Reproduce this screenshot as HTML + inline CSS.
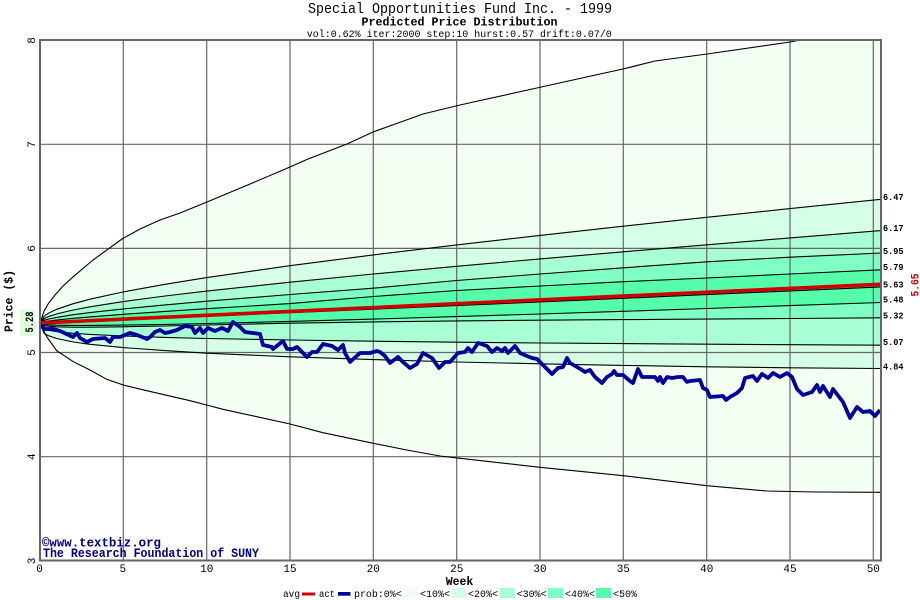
<!DOCTYPE html>
<html>
<head>
<meta charset="utf-8">
<style>
html,body{margin:0;padding:0;background:#fff;}
svg{display:block;}
text{font-family:"Liberation Mono","DejaVu Sans Mono",monospace;}
</style>
</head>
<body>
<svg width="920" height="600" viewBox="0 0 920 600" xmlns="http://www.w3.org/2000/svg">
<defs>
<clipPath id="pc"><rect x="40" y="40" width="841" height="521"/></clipPath>
</defs>
<rect x="0" y="0" width="920" height="600" fill="#fff"/>

<g clip-path="url(#pc)">
<polygon fill="#f2fff2" points="40,323.3 44.2,310.7 48.3,303.7 55,295 63,286 73.3,276.7 93,260 122,239 140,229 160,220 180,213 207,202 250,184 290,167 308,159 347,144 373,132 423,114 460,105 530,89.5 600,74 623,69 655,61 707,54 790,42 800,40 881,28 881,492.3 815,492 766.7,491 706.7,485.7 623.3,475.7 540,467.3 460,458.3 440,456 406.7,450 373.3,443.3 323,432.7 290,424 256.7,416.7 223,409.3 206.7,405 190,400.7 146.7,390.7 123.3,385 106.7,379.3 90,370 73.3,361.7 56.7,350.7 46.7,336.7"/>
<polygon fill="#d6ffe8" points="40,323.3 44.2,316.1 48.3,313.3 56.7,309.3 73.3,303.7 90,299.2 123.3,291.9 165,284.3 206.7,277.6 290,265.7 373.3,254.9 456.7,244.9 540,235.4 623.3,226.2 706.7,217.3 790,208.6 881,199.3 881,368.5 790,367.8 706.7,366.8 623.3,365.4 540,363.8 456.7,362 373.3,359.6 290,356.8 206.7,353.2 165,350.6 123.3,347.6 90,344.3 73.3,342 56.7,338.5 48.3,335.6 44.2,333.5"/>
<polygon fill="#a8ffd4" points="40,323.3 44.2,318.5 48.3,316.6 56.7,313.9 73.3,310 90,306.8 123.3,301.6 165,296 206.7,291.1 290,282.2 373.3,274 456.7,266.3 540,258.9 623.3,251.8 706.7,244.8 790,237.9 881,230.6 881,345.2 790,344.7 706.7,344.2 623.3,343.6 540,343 456.7,342.2 373.3,341.2 290,340 206.7,338.5 165,337.4 123.3,336 90,334.4 73.3,333.3 56.7,331.6 48.3,330.3 44.2,329"/>
<polygon fill="#80ffc4" points="40,323.3 44.2,320.3 48.3,319.1 56.7,317.4 73.3,314.7 90,312.6 123.3,308.9 165,304.9 206.7,301.2 290,294.5 373.3,288.2 456.7,280.5 540,274 623.3,267.8 706.7,261.8 790,257.2 881,253 881,317.8 790,318.5 706.7,319.1 623.3,319.6 540,320.2 456.7,320.9 373.3,321.9 290,323.2 206.7,325 165,326 123.3,326.8 90,327.2 73.3,327.2 56.7,326.8 48.3,326.2 44.2,325.6"/>
<polygon fill="#55ffaa" points="40,323.3 44.2,321.7 48.3,321 56.7,320 73.3,318.3 90,316.9 123.3,314.3 165,311.4 206.7,308.7 290,303.6 373.3,296.5 456.7,290.5 540,286 623.3,281.7 706.7,278 790,274 881,269.8 881,302.5 790,305.6 706.7,308.5 623.3,311.3 540,314 456.7,316.6 373.3,319.1 290,321.4 206.7,323.5 165,324.4 123.3,325.1 90,325.4 73.3,325.4 56.7,325.2 48.3,324.8 44.2,324.5"/>
</g>

<g stroke="#666" stroke-width="1.2">
<line x1="123.3" y1="40" x2="123.3" y2="561"/>
<line x1="206.7" y1="40" x2="206.7" y2="561"/>
<line x1="290" y1="40" x2="290" y2="561"/>
<line x1="373.3" y1="40" x2="373.3" y2="561"/>
<line x1="456.7" y1="40" x2="456.7" y2="561"/>
<line x1="540" y1="40" x2="540" y2="561"/>
<line x1="623.3" y1="40" x2="623.3" y2="561"/>
<line x1="706.7" y1="40" x2="706.7" y2="561"/>
<line x1="790" y1="40" x2="790" y2="561"/>
<line x1="873.3" y1="40" x2="873.3" y2="561"/>
<line x1="40" y1="144.3" x2="881" y2="144.3"/>
<line x1="40" y1="248.4" x2="881" y2="248.4"/>
<line x1="40" y1="352.5" x2="881" y2="352.5"/>
<line x1="40" y1="456.7" x2="881" y2="456.7"/>
</g>

<g clip-path="url(#pc)" fill="none" stroke="#000" stroke-width="1.1">
<polyline points="40,323.3 44.2,310.7 48.3,303.7 55,295 63,286 73.3,276.7 93,260 122,239 140,229 160,220 180,213 207,202 250,184 290,167 308,159 347,144 373,132 423,114 460,105 530,89.5 600,74 623,69 655,61 707,54 790,42 800,40 881,28"/>
<polyline points="40,323.3 44.2,316.1 48.3,313.3 56.7,309.3 73.3,303.7 90,299.2 123.3,291.9 165,284.3 206.7,277.6 290,265.7 373.3,254.9 456.7,244.9 540,235.4 623.3,226.2 706.7,217.3 790,208.6 881,199.3"/>
<polyline points="40,323.3 44.2,318.5 48.3,316.6 56.7,313.9 73.3,310 90,306.8 123.3,301.6 165,296 206.7,291.1 290,282.2 373.3,274 456.7,266.3 540,258.9 623.3,251.8 706.7,244.8 790,237.9 881,230.6"/>
<polyline points="40,323.3 44.2,320.3 48.3,319.1 56.7,317.4 73.3,314.7 90,312.6 123.3,308.9 165,304.9 206.7,301.2 290,294.5 373.3,288.2 456.7,280.5 540,274 623.3,267.8 706.7,261.8 790,257.2 881,253"/>
<polyline points="40,323.3 44.2,321.7 48.3,321 56.7,320 73.3,318.3 90,316.9 123.3,314.3 165,311.4 206.7,308.7 290,303.6 373.3,296.5 456.7,290.5 540,286 623.3,281.7 706.7,278 790,274 881,269.8"/>
<polyline points="40,323.3 44.2,323.2 48.3,323 56.7,322.6 73.3,321.9 90,321.2 123.3,319.8 165,318.1 206.7,316.3 290,312.7 373.3,309.2 456.7,305.6 540,301.9 623.3,298.3 706.7,294.6 790,290.9 881,286.9"/>
<polyline points="40,323.3 44.2,324.5 48.3,324.8 56.7,325.2 73.3,325.4 90,325.4 123.3,325.1 165,324.4 206.7,323.5 290,321.4 373.3,319.1 456.7,316.6 540,314 623.3,311.3 706.7,308.5 790,305.6 881,302.5"/>
<polyline points="40,323.3 44.2,325.6 48.3,326.2 56.7,326.8 73.3,327.2 90,327.2 123.3,326.8 165,326 206.7,325 290,323.2 373.3,321.9 456.7,320.9 540,320.2 623.3,319.6 706.7,319.1 790,318.5 881,317.8"/>
<polyline points="40,323.3 44.2,329 48.3,330.3 56.7,331.6 73.3,333.3 90,334.4 123.3,336 165,337.4 206.7,338.5 290,340 373.3,341.2 456.7,342.2 540,343 623.3,343.6 706.7,344.2 790,344.7 881,345.2"/>
<polyline points="40,323.3 44.2,333.5 48.3,335.6 56.7,338.5 73.3,342 90,344.3 123.3,347.6 165,350.6 206.7,353.2 290,356.8 373.3,359.6 456.7,362 540,363.8 623.3,365.4 706.7,366.8 790,367.8 881,368.5"/>
<polyline points="40,323.3 46.7,336.7 56.7,350.7 73.3,361.7 90,370 106.7,379.3 123.3,385 146.7,390.7 190,400.7 206.7,405 223,409.3 256.7,416.7 290,424 323,432.7 373.3,443.3 406.7,450 440,456 460,458.3 540,467.3 623.3,475.7 706.7,485.7 766.7,491 815,492 881,492.3"/>
</g>

<polyline clip-path="url(#pc)" fill="none" stroke="#d00000" stroke-width="3.6" points="40,323 460,303.5 880,284.3"/>

<polyline clip-path="url(#pc)" fill="none" stroke="#000099" stroke-width="3.8" stroke-linejoin="round" points="40,323.5 42,326.7 45,329 53,329 60,331 73,337 77,333 80,338 87,342 93,339 105,338 110,342 113,337 120,337 130,333 137,335 142,337 147,339 150,337 155,332 160,330 165,333 170,332 177,330 185,326 192,327 195,333 200,328 203,333 208,328 215,331 222,328 228,331 233,322 240,327 245,332 253,333 260,334 263,345 272,347 273,349 278,345 283,341 287,349 293,349 297,347 302,352 307,357 312,352 317,352 323,344 332,346 338,350 343,345 345,353 350,362 360,353 370,353 377,351 380,352 385,356 390,363 398,357 403,362 410,368 417,364 423,353 432,358 439,368 445,362 450,362 458,353 465,352 468,348 472,352 478,343 487,346 492,352 497,348 502,351 505,348 508,353 515,346 520,353 527,356 532,358 537,359 543,365 552,374 558,368 563,367 567,358 570,363 577,367 582,370 585,372 590,370 595,377 602,383 607,377 612,374 614,371 617,375 623,375 630,381 633,383 638,369 642,377 648,377 655,377 658,381 660,377 663,383 667,377 672,378 678,377 683,377 687,382 690,381 700,380 703,388 707,390 710,397 723,396 726,400 730,397 737,393 742,388 745,378 753,376 757,381 762,374 768,378 773,373 780,377 787,373 792,377 797,389 803,395 812,392 817,385 820,392 823,386 830,397 833,389 843,402 850,418 857,407 863,412 870,411 875,416 880,410"/>

<rect x="40" y="40" width="841" height="520.5" fill="none" stroke="#666" stroke-width="2"/>

<text x="460" y="13" text-anchor="middle" font-size="15" textLength="304" lengthAdjust="spacingAndGlyphs">Special Opportunities Fund Inc. - 1999</text>
<text x="459.5" y="25.5" text-anchor="middle" font-size="12" font-weight="bold" textLength="196" lengthAdjust="spacingAndGlyphs">Predicted Price Distribution</text>
<text x="459.3" y="37" text-anchor="middle" font-size="10" textLength="305" lengthAdjust="spacingAndGlyphs">vol:0.62% iter:2000 step:10 hurst:0.57 drift:0.07/0</text>

<g font-size="11" text-anchor="middle">
<text transform="translate(35,40.5) rotate(-90)">8</text>
<text transform="translate(35,144.5) rotate(-90)">7</text>
<text transform="translate(35,248.5) rotate(-90)">6</text>
<text transform="translate(35,352.5) rotate(-90)">5</text>
<text transform="translate(35,456.7) rotate(-90)">4</text>
<text transform="translate(35,561) rotate(-90)">3</text>
</g>
<text transform="translate(12.5,301) rotate(-90)" text-anchor="middle" font-size="12" font-weight="bold" textLength="62" lengthAdjust="spacingAndGlyphs">Price ($)</text>
<rect x="20" y="309" width="15" height="27" fill="#ddffdd"/>
<text transform="translate(33,322) rotate(-90)" text-anchor="middle" font-size="11" font-weight="bold" textLength="21" lengthAdjust="spacingAndGlyphs">5.28</text>
<text transform="translate(918.3,285) rotate(-90)" text-anchor="middle" font-size="11" font-weight="bold" fill="#cc0000" textLength="23" lengthAdjust="spacingAndGlyphs">5.65</text>

<g font-size="9.5" font-weight="bold">
<text x="883" y="200" textLength="20.5" lengthAdjust="spacingAndGlyphs">6.47</text>
<text x="883" y="231" textLength="20.5" lengthAdjust="spacingAndGlyphs">6.17</text>
<text x="883" y="254" textLength="20.5" lengthAdjust="spacingAndGlyphs">5.95</text>
<text x="883" y="270" textLength="20.5" lengthAdjust="spacingAndGlyphs">5.79</text>
<text x="883" y="287.3" textLength="20.5" lengthAdjust="spacingAndGlyphs">5.63</text>
<text x="883" y="302.7" textLength="20.5" lengthAdjust="spacingAndGlyphs">5.48</text>
<text x="883" y="318.7" textLength="20.5" lengthAdjust="spacingAndGlyphs">5.32</text>
<text x="883" y="345" textLength="20.5" lengthAdjust="spacingAndGlyphs">5.07</text>
<text x="883" y="369.3" textLength="20.5" lengthAdjust="spacingAndGlyphs">4.84</text>
</g>

<g font-size="11" text-anchor="middle">
<text x="39.5" y="572">0</text>
<text x="122.8" y="572">5</text>
<text x="206.7" y="572">10</text>
<text x="290" y="572">15</text>
<text x="373.3" y="572">20</text>
<text x="456.7" y="572">25</text>
<text x="540" y="572">30</text>
<text x="623.3" y="572">35</text>
<text x="706.7" y="572">40</text>
<text x="790" y="572">45</text>
<text x="873.3" y="572">50</text>
</g>
<text x="459.5" y="585" text-anchor="middle" font-size="12" font-weight="bold" textLength="27.6" lengthAdjust="spacingAndGlyphs">Week</text>

<text x="42" y="546.5" font-size="13" font-weight="bold" fill="#000080" textLength="119" lengthAdjust="spacingAndGlyphs">©www.textbiz.org</text>
<text x="43" y="557" font-size="13" font-weight="bold" fill="#000080" textLength="216" lengthAdjust="spacingAndGlyphs">The Research Foundation of SUNY</text>

<g font-size="10">
<text x="283" y="597" textLength="17" lengthAdjust="spacingAndGlyphs">avg</text>
<rect x="302" y="592.5" width="13" height="3" fill="#d00000"/>
<text x="319" y="597" textLength="16" lengthAdjust="spacingAndGlyphs">act</text>
<rect x="338" y="592" width="12.5" height="3.7" fill="#000099"/>
<text x="354" y="597" textLength="47.7" lengthAdjust="spacingAndGlyphs">prob:0%&lt;</text>
<rect x="404" y="588" width="14" height="10" fill="#f2fff2"/>
<text x="420" y="597" textLength="30" lengthAdjust="spacingAndGlyphs">&lt;10%&lt;</text>
<rect x="452" y="588" width="14.5" height="10" fill="#d6ffe8"/>
<text x="468" y="597" textLength="30" lengthAdjust="spacingAndGlyphs">&lt;20%&lt;</text>
<rect x="500" y="588" width="15" height="10" fill="#a8ffd4"/>
<text x="516.7" y="597" textLength="30" lengthAdjust="spacingAndGlyphs">&lt;30%&lt;</text>
<rect x="548" y="588" width="15" height="10" fill="#80ffc4"/>
<text x="565" y="597" textLength="30" lengthAdjust="spacingAndGlyphs">&lt;40%&lt;</text>
<rect x="596" y="588" width="15.5" height="10" fill="#55ffaa"/>
<text x="613" y="597" textLength="24" lengthAdjust="spacingAndGlyphs">&lt;50%</text>
</g>
</svg>
</body>
</html>
